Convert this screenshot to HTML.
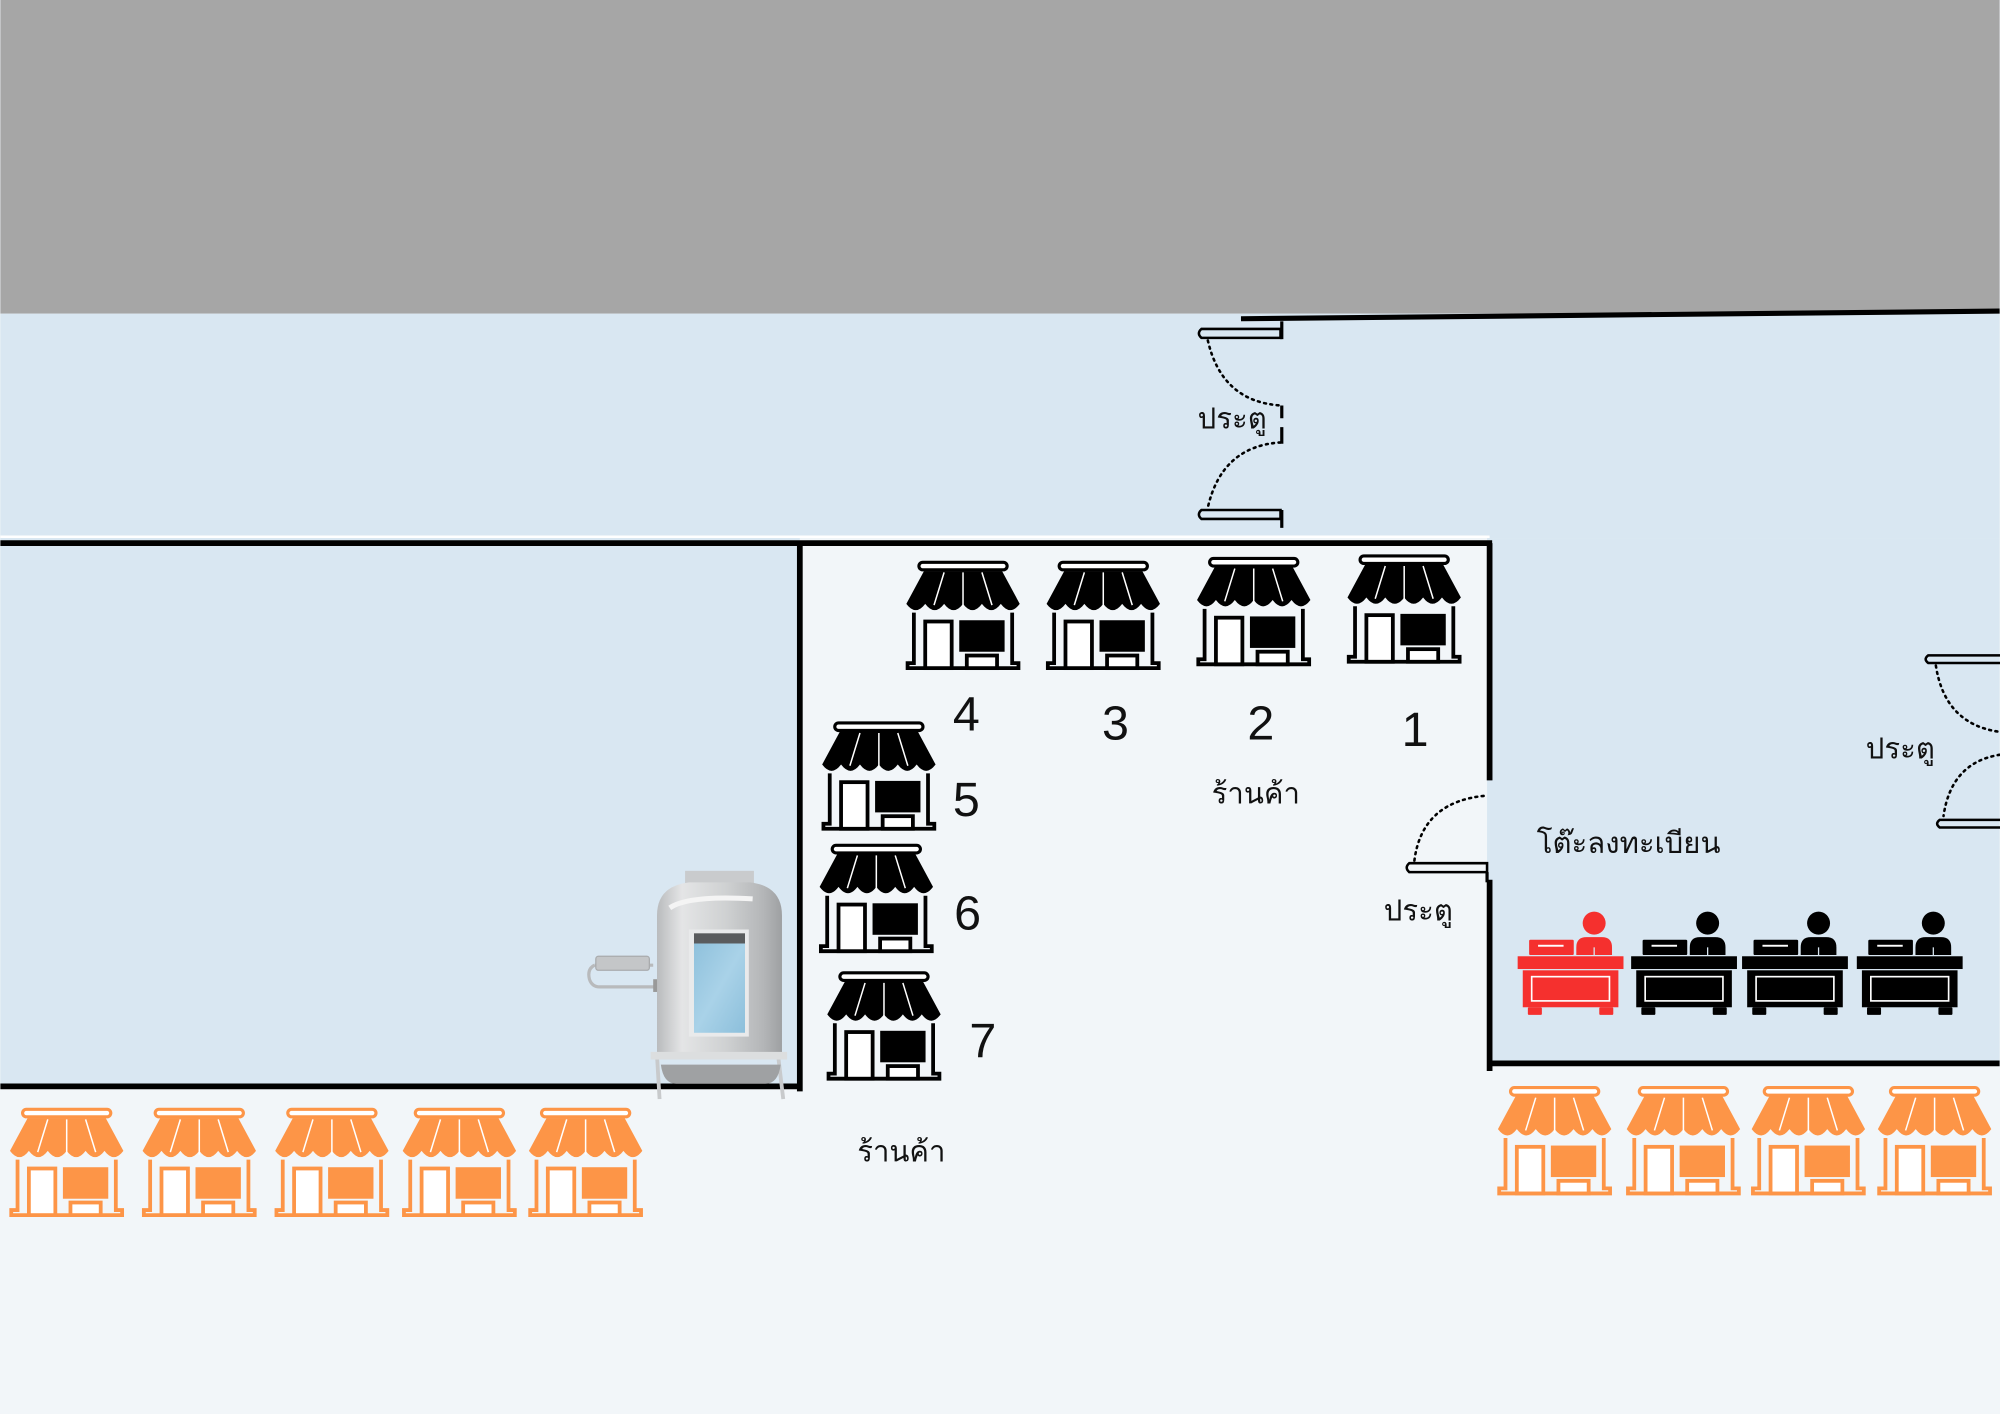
<!DOCTYPE html>
<html><head><meta charset="utf-8"><style>
html,body{margin:0;padding:0;width:2000px;height:1414px;overflow:hidden;background:#f2f6f9}
svg{display:block}
text{font-family:"Liberation Sans","Noto Sans CJK SC",sans-serif;fill:#111}
</style></head><body>
<svg width="2000" height="1414" viewBox="0 0 1568 1109" xmlns="http://www.w3.org/2000/svg">
<defs>
<symbol id="shop" viewBox="0 0 90 85" overflow="visible">
  <rect x="10" y="0" width="70" height="6" rx="3" fill="#fff" stroke="currentColor" stroke-width="2.5"/>
  <path d="M14,7 H76 L90,33 Q82.5,43 75,33 Q67.5,43 60,33 Q52.5,43 45,33 Q37.5,43 30,33 Q22.5,43 15,33 Q7.5,43 0,33 Z" fill="currentColor"/>
  <path d="M30,8 L22,34 M45,8 V36 M60,8 L68,34" stroke="#fff" stroke-width="1.2" fill="none"/>
  <path d="M6,40 V80 H1 V84 H89 V80 H84 V40" stroke="currentColor" stroke-width="3" fill="none"/>
  <rect x="15" y="47" width="21" height="37" fill="#fff" stroke="currentColor" stroke-width="3"/>
  <rect x="42" y="46" width="36" height="25" fill="currentColor"/>
  <rect x="48" y="74" width="24" height="10" fill="#fff" stroke="currentColor" stroke-width="3"/>
</symbol>
<symbol id="desk" viewBox="0 0 83 82" overflow="visible">
  <circle cx="60" cy="9" r="9" fill="currentColor"/>
  <path d="M46,34 V28 Q46,20 54,20 H66 Q74,20 74,28 V34 Z" fill="currentColor"/>
  <path d="M60,28 V34" stroke="#d9e7f2" stroke-width="1"/>
  <rect x="9" y="22" width="35" height="12" rx="1" fill="currentColor"/>
  <rect x="16" y="26" width="20" height="1.5" fill="#fff"/>
  <rect x="0" y="35" width="83" height="10" fill="currentColor"/>
  <rect x="4" y="46" width="75" height="29" fill="currentColor"/>
  <rect x="11" y="51" width="61" height="19" fill="none" stroke="#fff" stroke-width="1.3"/>
  <rect x="8" y="75" width="11" height="6" rx="1" fill="currentColor"/>
  <rect x="64" y="75" width="11" height="6" rx="1" fill="currentColor"/>
</symbol>
<linearGradient id="tank" x1="0" x2="1">
  <stop offset="0" stop-color="#b9bbbd"/><stop offset="0.2" stop-color="#e4e5e6"/><stop offset="0.55" stop-color="#cfd1d2"/><stop offset="0.85" stop-color="#b4b6b8"/><stop offset="1" stop-color="#9ea0a2"/>
</linearGradient>
<linearGradient id="glass" x1="0" y1="0" x2="1" y2="1">
  <stop offset="0" stop-color="#8fc1dc"/><stop offset="0.5" stop-color="#a9d2e8"/><stop offset="1" stop-color="#8cbfdb"/>
</linearGradient>
</defs>

<!-- backgrounds -->
<rect x="0" y="0" width="1568" height="1109" fill="#f2f6f9"/>
<rect x="0" y="0" width="1568" height="246" fill="#a6a6a6"/>
<rect x="0" y="246" width="1568" height="176" fill="#d9e7f2"/>
<rect x="0" y="422" width="627" height="430" fill="#d9e7f2"/>
<rect x="1166" y="422" width="402" height="412" fill="#d9e7f2"/>
<line x1="0" y1="421" x2="1168" y2="421" stroke="#fff" stroke-width="2"/>

<!-- walls -->
<path d="M973,250 L1568,244" stroke="#000" stroke-width="4"/>
<path d="M0,426 H1170" stroke="#000" stroke-width="4.5"/>
<path d="M627,426 V856" stroke="#000" stroke-width="4.5"/>
<path d="M0,852 H627" stroke="#000" stroke-width="4.5"/>
<path d="M1168,426 V612" stroke="#000" stroke-width="4.5"/>
<path d="M1168,690 V840" stroke="#000" stroke-width="4.5"/>
<path d="M1166,834 H1568" stroke="#000" stroke-width="4.5"/>

<!-- top door -->
<g fill="none" stroke="#000">
  <path d="M942,258 H1004 V265 H942 Q938,261.5 942,258 Z" stroke-width="2"/>
  <path d="M1005,252 V266" stroke-width="2.5"/>
  <path d="M942,400 H1004 V407 H942 Q938,403.5 942,400 Z" stroke-width="2"/>
  <path d="M1005,400 V414" stroke-width="2.5"/>
  <path d="M947,267 Q958,315 1004,318" stroke-width="2" stroke-dasharray="1.5,3.5" stroke-linecap="round"/>
  <path d="M1004,347 Q958,350 947,398" stroke-width="2" stroke-dasharray="1.5,3.5" stroke-linecap="round"/>
  <path d="M1005,318 V328 M1005,335 V348" stroke-width="2.5"/>
  <!-- middle right door -->
  <path d="M1105,677 H1166 V684 H1105 Q1101,680.5 1105,677 Z" stroke-width="2"/>
  <path d="M1166,684 V692" stroke-width="2.5"/>
  <path d="M1109,675 Q1115,628 1166,624" stroke-width="2" stroke-dasharray="1.5,3.5" stroke-linecap="round"/>
  <!-- far right door -->
  <path d="M1512,514 H1570 V520 H1512 Q1508,517 1512,514 Z" stroke-width="2"/>
  <path d="M1518,522 Q1525,568 1568,574" stroke-width="2" stroke-dasharray="1.5,3.5" stroke-linecap="round"/>
  <path d="M1568,592 Q1530,598 1524,640" stroke-width="2" stroke-dasharray="1.5,3.5" stroke-linecap="round"/>
  <path d="M1521,643 H1570 V649 H1521 Q1517,646 1521,643 Z" stroke-width="2"/>
</g>

<!-- tank -->
<g>
  <path d="M466,757 H512 M466,757 Q460,760 462,768 Q464,774 470,774 H513" stroke="#b8babc" stroke-width="2.5" fill="none"/>
  <rect x="467" y="750" width="42" height="11" rx="2" fill="#c4c6c8" stroke="#a9abad" stroke-width="1"/>
  <rect x="512" y="768" width="4" height="10" fill="#999"/>
  <path d="M515,828 L517,862 M610,828 L614,862" stroke="#c8cacc" stroke-width="3"/>
  <path d="M518,835 Q520,850 530,850 H600 Q610,850 612,835 Z" fill="#9fa1a3"/>
  <rect x="537" y="683" width="54" height="10" fill="#c9cbcd"/>
  <path d="M515,830 V718 Q515,695 540,692 H588 Q613,695 613,718 V830 Z" fill="url(#tank)"/>
  <path d="M525,712 Q540,702 590,705" stroke="#f4f4f4" stroke-width="4" fill="none"/>
  <rect x="540" y="729" width="47" height="84" fill="#e9eaeb"/>
  <rect x="544" y="732" width="40" height="8" fill="#5a5c5e"/>
  <rect x="544" y="740" width="40" height="70" fill="url(#glass)"/>
  <rect x="510" y="825" width="107" height="6" fill="#dcdedf"/>
</g>

<!-- black shops -->
<g color="#000">
  <use href="#shop" x="710" y="441" width="90" height="84"/>
  <use href="#shop" x="820" y="441" width="90" height="84"/>
  <use href="#shop" x="938" y="438" width="90" height="84"/>
  <use href="#shop" x="1056" y="436" width="90" height="84"/>
  <use href="#shop" x="644" y="567" width="90" height="84"/>
  <use href="#shop" x="642" y="663" width="90" height="84"/>
  <use href="#shop" x="648" y="763" width="90" height="84"/>
</g>
<!-- orange shops -->
<g color="#fd9547">
  <use href="#shop" x="7" y="870" width="90" height="84"/>
  <use href="#shop" x="111" y="870" width="90" height="84"/>
  <use href="#shop" x="215" y="870" width="90" height="84"/>
  <use href="#shop" x="315" y="870" width="90" height="84"/>
  <use href="#shop" x="414" y="870" width="90" height="84"/>
  <use href="#shop" x="1174" y="853" width="90" height="84"/>
  <use href="#shop" x="1275" y="853" width="90" height="84"/>
  <use href="#shop" x="1373" y="853" width="90" height="84"/>
  <use href="#shop" x="1472" y="853" width="90" height="84"/>
</g>
<!-- desks -->
<use href="#desk" x="1190" y="715" width="83" height="82" color="#f5302e"/>
<g color="#000">
  <use href="#desk" x="1279" y="715" width="83" height="82"/>
  <use href="#desk" x="1366" y="715" width="83" height="82"/>
  <use href="#desk" x="1456" y="715" width="83" height="82"/>
</g>

<!-- labels -->
<g font-size="38">
  <text x="747" y="573">4</text>
  <text x="864" y="580">3</text>
  <text x="978" y="580">2</text>
  <text x="1099" y="585">1</text>
  <text x="747" y="640">5</text>
  <text x="748" y="729">6</text>
  <text x="760" y="829">7</text>
</g>
<g font-size="23">
  <text x="950" y="630">ร้านค้า</text>
  <text x="672" y="911">ร้านค้า</text>
  <text x="939" y="336">ประตู</text>
  <text x="1085" y="722">ประตู</text>
  <text x="1463" y="595">ประตู</text>
  <text x="1205" y="669">โต๊ะลงทะเบียน</text>
</g>
</svg>
</body></html>
